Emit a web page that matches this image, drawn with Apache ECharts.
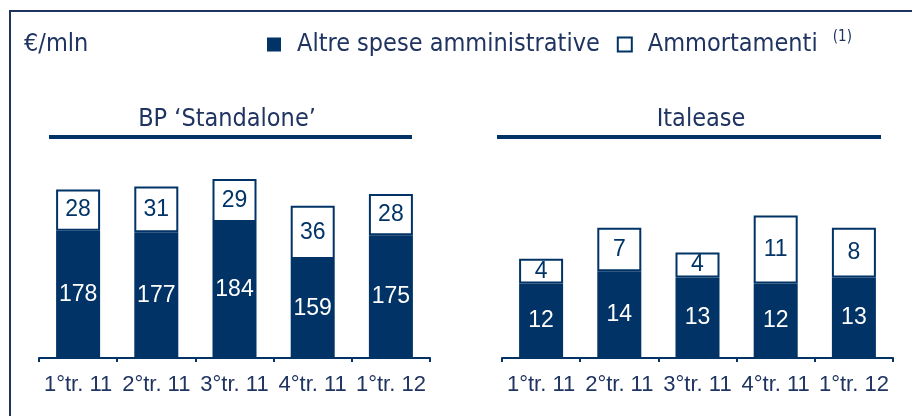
<!DOCTYPE html>
<html>
<head>
<meta charset="utf-8">
<script src="https://cdn.jsdelivr.net/npm/echarts@6/dist/echarts.min.js"></script>
<style>
  html, body { margin: 0; padding: 0; background: #ffffff; }
  #chart { width: 912px; height: 416px; }
</style>
</head>
<body>
<div id="chart"></div>
<script>
// ---- data ----
const categories = ['1°tr. 11', '2°tr. 11', '3°tr. 11', '4°tr. 11', '1°tr. 12'];
const seriesNames = ['Altre spese amministrative', 'Ammortamenti'];
const panelTitles = ['BP \u2018Standalone\u2019', 'Italease'];
const bpAltre = [178, 177, 184, 159, 175];
const bpAmmortamenti = [28, 31, 29, 36, 28];
const itAltre = [12, 14, 13, 12, 13];
const itAmmortamenti = [4, 7, 4, 11, 8];
const unitLabel = '\u20AC/mln';
const footnoteMark = '(1)';

// ---- styles ----
const NAVY = '#013366';
const TEXT = '#1f3461';
const TITLE_FONT = "'DejaVu Sans Condensed', 'Noto Sans', sans-serif";
const NUM_FONT = "'Liberation Sans', Arial, sans-serif";

const chart = echarts.init(document.getElementById('chart'), null, { renderer: 'canvas' });

function xAxisFor(gridIndex) {
  return {
    type: 'category', gridIndex: gridIndex, data: categories,
    axisLine: { show: true, lineStyle: { color: NAVY, width: 2 } },
    axisTick: { show: true, length: 4, lineStyle: { color: NAVY, width: 2 } },
    axisLabel: { color: TEXT, fontFamily: NUM_FONT, fontSize: 22, margin: 16, interval: 0 },
    splitLine: { show: false }
  };
}
function yAxisFor(gridIndex, min, max) {
  return {
    type: 'value', gridIndex: gridIndex, min: min, max: max,
    show: false, splitLine: { show: false }
  };
}
function darkSeries(idx, data) {
  return {
    name: seriesNames[0], type: 'bar', stack: 's' + idx,
    xAxisIndex: idx, yAxisIndex: idx, data: data, barWidth: 44,
    itemStyle: { color: NAVY },
    label: { show: true, position: 'inside', color: '#ffffff', fontFamily: NUM_FONT, fontSize: 23 },
    silent: true
  };
}
function lightSeries(idx, data) {
  return {
    name: seriesNames[1], type: 'bar', stack: 's' + idx,
    xAxisIndex: idx, yAxisIndex: idx, data: data, barWidth: 44,
    itemStyle: { color: '#ffffff', borderColor: NAVY, borderWidth: 2 },
    label: { show: true, position: 'inside', color: NAVY, fontFamily: NUM_FONT, fontSize: 23 },
    silent: true
  };
}

const option = {
  animation: false,
  backgroundColor: '#ffffff',
  grid: [
    { left: 39, width: 391, top: 151, height: 207, containLabel: false },
    { left: 502, width: 391, top: 203, height: 155, containLabel: false }
  ],
  xAxis: [xAxisFor(0), xAxisFor(1)],
  yAxis: [yAxisFor(0, 92, 232), yAxisFor(1, 0, 25)],
  legend: {
    data: seriesNames,
    left: 267, top: 30, padding: 0,
    icon: 'rect', itemWidth: 14, itemHeight: 14, itemGap: 17,
    selectedMode: false,
    formatter: function (name) {
      return name === seriesNames[1] ? name + ' {sup|' + footnoteMark + '}' : name;
    },
    textStyle: {
      color: TEXT, fontFamily: TITLE_FONT, fontSize: 25, padding: [0, 0, 0, 11],
      rich: { sup: { fontSize: 15, fontFamily: TITLE_FONT, color: TEXT, verticalAlign: 'top', padding: [0, 0, 14, 8] } }
    }
  },
  graphic: [
    { type: 'rect', shape: { x: 10, y: 11, width: 1000, height: 600 }, style: { fill: null, stroke: '#1f3461', lineWidth: 2 }, silent: true },
    { type: 'text', left: 24, top: 32, style: { text: unitLabel, fill: TEXT, font: '25px ' + TITLE_FONT } },
    { type: 'text', x: 227, y: 119, style: { text: panelTitles[0], fill: TEXT, font: '25px ' + TITLE_FONT, textAlign: 'center', textVerticalAlign: 'middle' } },
    { type: 'text', x: 701, y: 119, style: { text: panelTitles[1], fill: TEXT, font: '25px ' + TITLE_FONT, textAlign: 'center', textVerticalAlign: 'middle' } },
    { type: 'rect', shape: { x: 49, y: 135, width: 363, height: 4 }, style: { fill: NAVY }, silent: true },
    { type: 'rect', shape: { x: 497, y: 135, width: 384, height: 4 }, style: { fill: NAVY }, silent: true }
  ],
  series: [
    darkSeries(0, bpAltre), lightSeries(0, bpAmmortamenti),
    darkSeries(1, itAltre), lightSeries(1, itAmmortamenti)
  ]
};
chart.setOption(option);
</script>
</body>
</html>
